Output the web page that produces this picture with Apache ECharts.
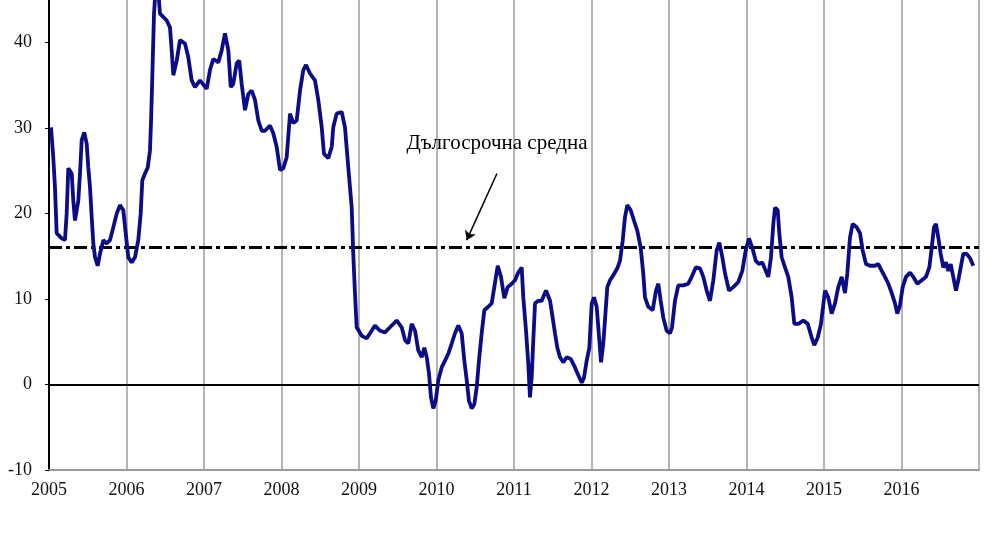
<!DOCTYPE html>
<html>
<head>
<meta charset="utf-8">
<script src="https://cdn.jsdelivr.net/npm/echarts@6/dist/echarts.min.js"></script>
<style>html,body{margin:0;padding:0;background:#fff;}#c{width:1001px;height:538px;}</style>
</head>
<body>
<div id="c"></div>
<script>
// decimal years offset from 2005
const yearOffsets = [
0.026,0.055,0.077,0.099,0.164,0.206,0.228,0.249,0.293,0.314,0.335,0.378,0.400,0.422,0.455,0.486,0.507,0.529,0.551,0.572,
0.594,0.628,0.658,0.701,0.745,0.787,0.830,0.874,0.916,0.959,0.990,1.023,1.067,1.110,1.152,1.183,1.204,1.239,1.274,1.303,
1.316,1.333,1.355,1.377,1.406,1.432,1.519,1.561,1.583,1.604,1.648,1.690,1.755,1.797,1.841,1.884,1.948,2.035,2.077,2.120,
2.185,2.228,2.271,2.314,2.345,2.378,2.422,2.455,2.486,2.529,2.572,2.615,2.658,2.701,2.745,2.787,2.852,2.894,2.938,2.981,
3.023,3.067,3.110,3.152,3.196,3.239,3.281,3.316,3.368,3.432,3.475,3.519,3.548,3.604,3.648,3.668,3.712,3.777,3.819,3.862,
3.906,3.926,3.948,3.970,4.035,4.099,4.142,4.206,4.271,4.335,4.400,4.486,4.551,4.594,4.636,4.680,4.723,4.765,4.809,4.843,
4.874,4.903,4.929,4.959,4.990,5.023,5.067,5.110,5.152,5.196,5.239,5.281,5.325,5.359,5.390,5.419,5.454,5.488,5.519,5.548,
5.583,5.617,5.668,5.712,5.746,5.790,5.832,5.875,5.919,5.970,6.013,6.055,6.099,6.120,6.155,6.184,6.206,6.228,6.249,6.271,
6.314,6.357,6.413,6.465,6.499,6.529,6.559,6.594,6.636,6.680,6.732,6.787,6.830,6.874,6.903,6.938,6.972,7.003,7.032,7.067,
7.101,7.123,7.152,7.183,7.204,7.239,7.281,7.333,7.368,7.403,7.432,7.462,7.506,7.548,7.591,7.635,7.668,7.690,7.733,7.790,
7.832,7.862,7.893,7.927,7.970,8.013,8.039,8.077,8.120,8.185,8.249,8.293,8.345,8.400,8.443,8.486,8.529,8.572,8.615,8.649,
8.688,8.723,8.774,8.830,8.894,8.946,8.990,9.032,9.075,9.119,9.161,9.204,9.248,9.281,9.316,9.346,9.368,9.403,9.423,9.454,
9.497,9.539,9.583,9.617,9.668,9.733,9.790,9.841,9.875,9.919,9.961,10.013,10.055,10.099,10.142,10.184,10.228,10.271,10.301,10.335,
10.370,10.422,10.465,10.499,10.542,10.594,10.658,10.701,10.745,10.787,10.830,10.874,10.916,10.946,10.981,11.015,11.058,11.110,11.152,11.204,
11.261,11.316,11.359,11.390,11.419,11.445,11.475,11.506,11.539,11.574,11.604,11.635,11.668,11.703,11.733,11.764,11.797,11.841,11.884,11.926
];
const values = [
30.1,26.6,23.1,17.7,17.1,16.9,20.0,25.3,24.7,21.5,19.2,21.5,24.7,28.6,29.5,28.2,25.4,23.1,19.6,16.5,
14.9,13.9,15.3,16.9,16.5,16.9,18.4,20.0,21.0,20.4,17.7,14.9,14.3,14.9,16.9,20.0,23.9,24.7,25.4,27.4,
30.6,36.0,43.4,46.5,46.5,43.4,42.6,41.8,39.1,36.2,37.9,40.3,39.9,38.3,35.6,34.8,35.6,34.6,36.8,38.1,
37.7,39.1,41.1,39.1,34.8,35.2,37.6,37.9,35.2,32.1,34.0,34.4,33.3,30.9,29.7,29.7,30.3,29.4,27.8,25.1,
25.3,26.6,31.7,30.6,30.9,34.4,36.8,37.4,36.4,35.6,33.3,30.1,27.0,26.5,27.8,30.1,31.7,31.9,30.1,25.4,
20.7,15.3,10.7,6.7,5.7,5.4,6.0,6.9,6.3,6.1,6.7,7.5,6.7,5.2,4.8,7.1,6.3,4.0,3.2,4.3,
3.2,1.3,-1.5,-2.8,-1.9,0.5,2.0,2.8,3.6,4.8,6.0,6.9,6.0,2.8,0.5,-1.9,-2.8,-2.3,-0.3,2.8,
6.0,8.7,9.1,9.5,11.4,13.9,12.6,10.1,11.4,11.8,12.2,13.1,13.7,10.2,6.3,2.5,-1.5,0.8,5.2,9.5,
9.8,9.8,11.0,9.8,7.8,6.0,4.3,3.2,2.6,3.2,3.0,2.0,1.1,0.2,0.8,2.8,4.3,9.5,10.2,9.1,
5.2,2.6,4.8,8.7,11.4,12.2,12.8,13.6,14.5,16.9,19.6,21.0,20.4,19.2,18.0,16.0,13.0,10.2,9.1,8.7,
11.0,11.8,9.8,7.8,6.3,6.0,6.7,9.8,11.6,11.6,11.8,12.6,13.7,13.6,12.6,11.0,9.8,12.2,15.7,16.6,
14.9,13.0,11.0,11.4,12.0,13.3,15.7,17.1,16.0,14.5,14.1,14.3,13.3,12.6,14.9,18.8,20.7,20.4,17.7,14.9,
13.7,12.6,10.2,7.1,7.1,7.5,7.1,5.5,4.6,5.5,7.1,11.0,10.2,8.3,9.5,11.4,12.6,10.7,13.0,17.2,
18.8,18.4,17.7,15.7,14.1,13.9,13.9,14.1,13.3,12.6,11.8,10.7,9.5,8.3,9.3,11.4,12.6,13.1,12.6,11.8,
12.2,12.6,13.7,16.0,18.4,18.8,17.2,15.3,13.7,14.3,13.3,14.1,12.6,11.0,12.2,13.7,15.3,15.3,14.8,13.9
];
const startYear = 2005;
const yearTicks = [2005,2006,2007,2008,2009,2010,2011,2012,2013,2014,2015,2016];
const yTicks = [-10,0,10,20,30,40];
const longTermAverage = 16.1;
const annotationText = 'Дългосрочна средна';
const annotationAt = [2010.78, 28.2];
const arrowFrom = [2010.78, 24.7];
const arrowTo = [2010.39, 16.9];

const seriesData = yearOffsets.map((o, i) => [startYear + o, values[i]]);
const chart = echarts.init(document.getElementById('c'), null, {renderer: 'canvas'});
const serif = '"Liberation Serif", "DejaVu Serif", serif';
chart.setOption({
  backgroundColor: '#ffffff',
  animation: false,
  grid: {left: 49, right: 22, top: 0, bottom: 68, containLabel: false},
  xAxis: {
    type: 'value', min: 2005, max: 2017, interval: 1,
    axisLine: {show: true, onZero: false, lineStyle: {color: '#9a9a9a', width: 2}},
    axisTick: {show: false},
    splitLine: {show: true, lineStyle: {color: '#b4b4b4', width: 2}},
    axisLabel: {
      margin: 11, fontFamily: serif, fontSize: 18, color: '#111',
      formatter: v => yearTicks.includes(v) ? String(v) : ''
    }
  },
  yAxis: {
    type: 'value', min: -10, max: 45, interval: 10,
    axisLine: {show: true, onZero: false, lineStyle: {color: '#000', width: 2}},
    axisTick: {show: true, length: 4, customValues: yTicks, lineStyle: {color: '#000', width: 1}},
    splitLine: {show: false},
    axisLabel: {
      margin: 17, fontFamily: serif, fontSize: 18, color: '#111', customValues: yTicks,
      formatter: v => yTicks.includes(v) ? String(v) : ''
    }
  },
  series: [
    {
      type: 'line', data: seriesData, showSymbol: false, symbol: 'none',
      lineStyle: {color: '#0c0c86', width: 3.8}, clip: true, z: 5,
      markLine: {
        silent: true, symbol: 'none', animation: false,
        label: {show: false},
        data: [
          {yAxis: 0, lineStyle: {color: '#000', width: 1.8, type: 'solid'}},
          {yAxis: longTermAverage, lineStyle: {color: '#000', width: 3, type: [13, 4, 4, 4]}}
        ]
      }
    },
    {
      type: 'line', data: [], silent: true,
      markLine: {
        silent: true, animation: false,
        symbol: ['none', 'arrow'], symbolSize: 9,
        label: {show: false},
        lineStyle: {color: '#000', width: 1.5, type: 'solid'},
        data: [[{coord: arrowFrom}, {coord: arrowTo}]]
      },
      markPoint: {
        silent: true, symbol: 'rect', symbolSize: 1,
        itemStyle: {color: 'transparent'},
        label: {show: true, position: 'inside', color: '#000', fontFamily: serif, fontSize: 21,
          formatter: annotationText},
        data: [{coord: annotationAt}]
      }
    }
  ]
});
</script>
</body>
</html>
